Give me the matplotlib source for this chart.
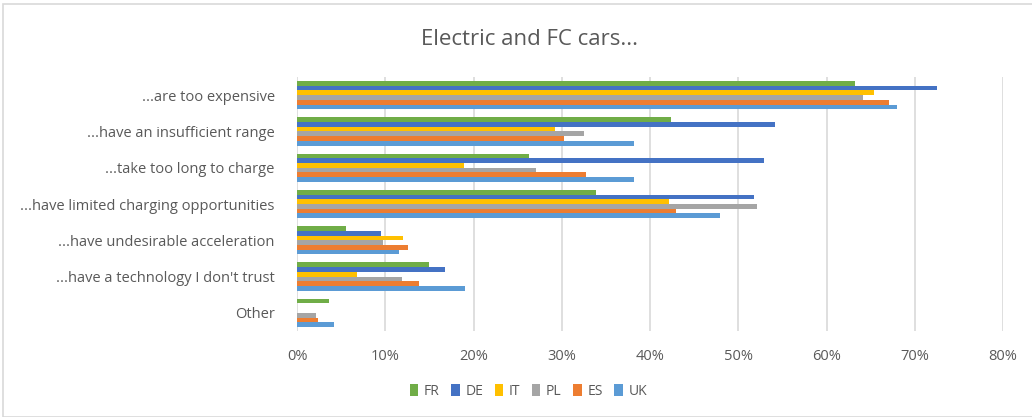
import matplotlib
matplotlib.use("Agg")
import matplotlib.pyplot as plt
from matplotlib.patches import Rectangle
import numpy as np

# survey answers, share of respondents per country
categories = ["...are too expensive", "...have an insufficient range",
              "...take too long to charge", "...have limited charging opportunities",
              "...have undesirable acceleration", "...have a technology I don't trust",
              "Other"]
countries = ["FR", "DE", "IT", "PL", "ES", "UK"]
fr = [63.2, 42.4, 26.3, 33.9, 5.5, 15.0, 3.6]
de = [72.5, 54.2, 52.9, 51.8, 9.5, 16.8, 0.0]
it = [65.4, 29.2, 18.9, 42.1, 12.0, 6.8, 0.0]
pl = [64.1, 32.5, 27.1, 52.1, 9.7, 11.9, 2.1]
es = [67.1, 30.3, 32.8, 43.0, 12.6, 13.8, 2.4]
uk = [68.0, 38.2, 38.2, 47.9, 11.6, 19.0, 4.2]
series = [fr, de, it, pl, es, uk]
colors = ["#70AD47", "#4472C4", "#FFC000", "#A5A5A5", "#ED7D31", "#5B9BD5"]

plt.rcParams['font.family'] = ['Open Sans', 'DejaVu Sans']
txt = "#595959"

fig = plt.figure(figsize=(10.32, 4.17), dpi=100)
ax = fig.add_axes([297/1032, 1 - 331/417, (1003 - 297)/1032, (331 - 77)/417])

# outer chart frame
fig.patches.append(Rectangle((3/1032, 0), 1.2, 1 - 4/417, transform=fig.transFigure,
                             fill=False, edgecolor="#D9D9D9", lw=1.2))

y = np.arange(len(categories))
h = 0.13
for j, (vals, c) in enumerate(zip(series, colors)):
    ax.barh(y + (j - 2.5)*h, np.array(vals)/100, height=h, color=c,
            label=countries[j], linewidth=0)

ax.set_ylim(len(categories) - 0.5, -0.5)
ax.set_xlim(0, 0.8)
ax.set_xticks(np.arange(0, 0.81, 0.1))
ax.set_xticklabels([f"{int(round(v*100))}%" for v in np.arange(0, 0.81, 0.1)])
ax.set_yticks(y)
ax.set_yticklabels(categories)
ax.tick_params(length=0, labelsize=10.5, colors=txt)
ax.tick_params(axis='x', pad=13)
ax.tick_params(axis='y', pad=16)
ax.grid(axis='x', color="#D9D9D9", lw=1.2)
ax.set_axisbelow(True)
for s in ax.spines.values():
    s.set_visible(False)

fig.text(0.513, 0.905, "Electric and FC cars...", ha='center', va='center',
         fontsize=16, color=txt)

fig.legend(loc='center', bbox_to_anchor=(0.512, 0.062), ncol=6, frameon=False,
           fontsize=10, handlelength=0.6, handleheight=1.0, handletextpad=0.4,
           columnspacing=0.85, labelcolor=txt)

fig.savefig("out.png", dpi=100)
